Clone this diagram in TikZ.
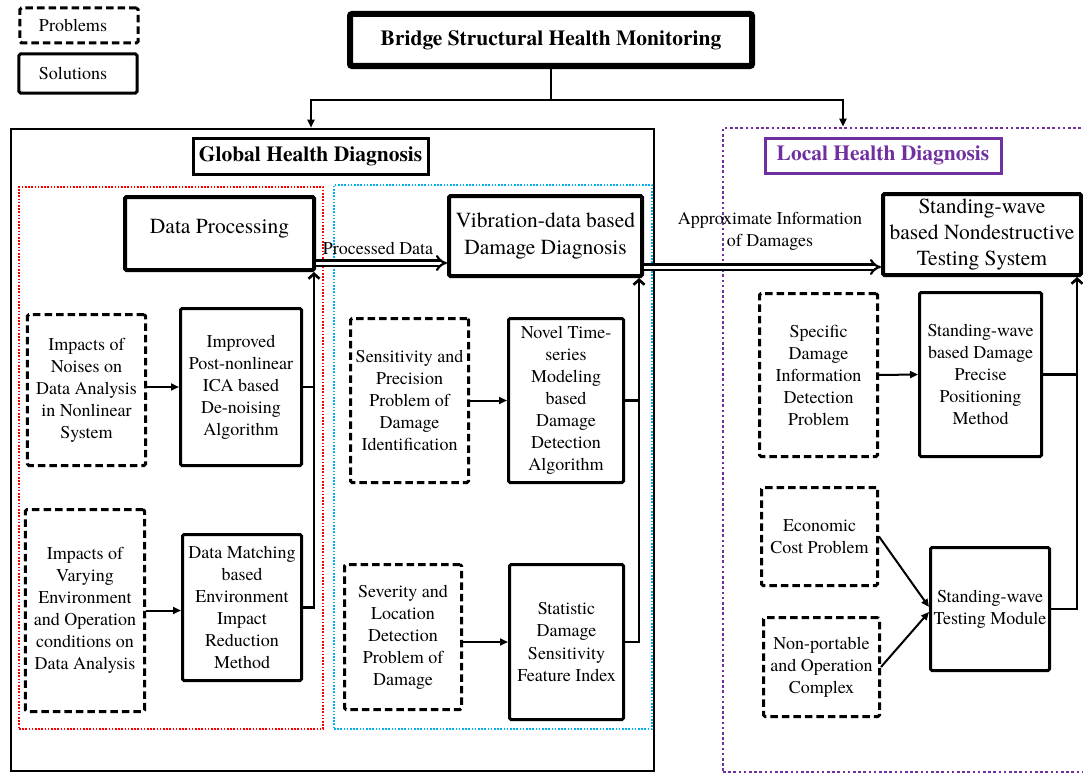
\documentclass[tikz,border=0pt]{standalone}
\usepackage{fontspec}
\setmainfont{texgyretermes}[Extension=.otf, UprightFont=*-regular, BoldFont=*-bold, ItalicFont=*-italic, BoldItalicFont=*-bolditalic]
\usetikzlibrary{arrows.meta}
\definecolor{zonered}{RGB}{255,0,0}
\definecolor{zoneblue}{RGB}{0,176,240}
\definecolor{zonepurple}{RGB}{112,48,160}
\newcommand\bodyfont{\fontsize{18bp}{22bp}\selectfont}
\newcommand\headfont{\fontsize{21.5bp}{27.5bp}\selectfont}
\newcommand\titlefont{\fontsize{21.5bp}{26bp}\selectfont\bfseries}
\newcommand\labelfont{\fontsize{18bp}{22bp}\selectfont}

\begin{document}
\begin{tikzpicture}[x=1bp,y=-1bp,
  box/.style={align=center, inner sep=0pt},
  prob/.style={box, draw, line width=3bp, dash pattern=on 7.5bp off 4bp, rounded corners=1.5bp, font=\bodyfont},
  sol/.style={box, draw, line width=3bp, rounded corners=1.5bp, font=\bodyfont},
  major/.style={box, draw, line width=4bp, rounded corners=1.5bp, font=\headfont},
  zone/.style={draw, line width=1.6bp, dash pattern=on 1.6bp off 1.6bp, inner sep=0pt},
  link/.style={line width=2bp, -{Triangle[length=8bp,width=7bp]}},
  feed/.style={line width=2.6bp, -{Straight Barb[length=5bp,width=11bp]}},
  trunk/.style={line width=2.6bp},
  pass/.style={double, double distance=3bp, line width=2.2bp, -{Implies[length=6bp]}},
]
\fill[white] (0,0) rectangle (1083,773);
\useasboundingbox (0,0) rectangle (1083,773);

% legend
\node[prob, minimum width=118bp, minimum height=35bp, font=\labelfont] (legP) at (79,25.5) {Problems\hspace*{12bp}};
\node[sol, minimum width=118bp, minimum height=39bp, font=\labelfont] (legS) at (78,73.5) {Solutions\hspace*{10bp}};

% title
\node[box, draw, line width=6bp, rounded corners=2bp, minimum width=402bp, minimum height=52bp, font=\titlefont] (title) at (551,40) {Bridge Structural Health Monitoring};

% global diagnosis frame
\node[draw, line width=2.5bp, minimum width=643bp, minimum height=642bp, inner sep=0pt] (global) at (332.5,450) {};
\node[box, draw, line width=3bp, minimum width=235bp, minimum height=36bp, font=\titlefont] (ghd) at (310.5,156) {Global Health Diagnosis};
\node[zone, draw=zonered, minimum width=304bp, minimum height=542bp] (redzone) at (171,458) {};
\node[zone, draw=zoneblue, minimum width=318bp, minimum height=544bp] (bluezone) at (493,457) {};

% local diagnosis frame
\node[zone, draw=zonepurple, line width=2.6bp, dash pattern=on 2.6bp off 2.6bp, minimum width=377bp, minimum height=644bp] (local) at (911.5,450) {};
\node[box, draw=zonepurple, text=zonepurple, line width=3bp, minimum width=236bp, minimum height=35bp, font=\titlefont] (lhd) at (883,155.5) {Local Health Diagnosis};

% main stages
\node[major, minimum width=189bp, minimum height=73bp, text depth=14bp] (DP) at (219.5,233.5) {Data Processing};
\node[major, minimum width=193bp, minimum height=80bp] (VB) at (545.5,236) {Vibration-data based\\Damage Diagnosis};
\node[major, minimum width=198bp, minimum height=81bp, font=\fontsize{21.5bp}{25.5bp}\selectfont] (NDT) at (982,234.5) {Standing-wave\\based Nondestructive\\Testing System};

% data processing column
\node[prob, minimum width=118bp, minimum height=151bp] (P1) at (86.5,390) {Impacts of\\Noises on\\Data Analysis\\in Nonlinear\\System};
\node[sol, minimum width=121bp, minimum height=157bp] (S1) at (241,387) {Improved\\Post-nonlinear\\ICA based\\De-noising\\Algorithm};
\node[prob, minimum width=119bp, minimum height=202bp] (P2) at (85,610.5) {Impacts of\\Varying\\Environment\\and Operation\\conditions on\\Data Analysis};
\node[sol, minimum width=119bp, minimum height=146bp] (S2) at (242,607.5) {Data Matching\\based\\Environment\\Impact\\Reduction\\Method};

% vibration diagnosis column
\node[prob, minimum width=118bp, minimum height=164bp] (P3) at (409.5,400.5) {Sensitivity and\\Precision\\Problem of\\Damage\\Identification};
\node[sol, minimum width=115bp, minimum height=164bp] (S3) at (566,400.5) {Novel Time-\\series\\Modeling\\based\\Damage\\Detection\\Algorithm};
\node[prob, minimum width=117bp, minimum height=145bp] (P4) at (403,637) {Severity and\\Location\\Detection\\Problem of\\Damage};
\node[sol, minimum width=114bp, minimum height=155bp] (S4) at (566.5,642) {Statistic\\Damage\\Sensitivity\\Feature Index};

% standing-wave column
\node[prob, minimum width=118bp, minimum height=163bp] (P5) at (818.5,375) {Specific\\Damage\\Information\\Detection\\Problem};
\node[sol, minimum width=122bp, minimum height=164bp] (S5) at (980.5,374.5) {Standing-wave\\based Damage\\Precise\\Positioning\\Method};
\node[prob, minimum width=116bp, minimum height=98bp] (P6) at (819.5,536.5) {Economic\\Cost Problem};
\node[prob, minimum width=116bp, minimum height=99bp] (P7) at (821.5,667) {Non-portable\\and Operation\\Complex};
\node[sol, minimum width=119bp, minimum height=123bp] (S6) at (990,609) {Standing-wave\\Testing Module};

% title branches
\draw[link] (title.south) -- ++(0,31) -| ([xshift=-21.5bp]global.north);
\draw[link] (title.south) -- ++(0,31) -| ([xshift=-68.5bp]local.north);

% data hand-over arrows
\path ([yshift=-29.5bp]DP.east) coordinate (pd);
\draw[pass] (pd) -- (pd -| VB.west);
\node[font=\labelfont, inner sep=0pt] (pdlabel) at (378,248) {Processed Data};
\path ([yshift=-31bp]VB.east) coordinate (ai);
\draw[pass] (ai) -- (ai -| NDT.west);
\node[font=\labelfont, align=center, inner sep=0pt] (ailabel) at (770,231) {Approximate Information\\of Damages};

% problems to solutions
\draw[link] (S1.west -| P1.east) -- (S1.west);
\draw[link] (P2.east) -- (P2.east -| S2.west);
\draw[link] (P3.east) -- (S3.west);
\draw[link] (S4.west -| P4.east) -- (S4.west);
\draw[link] (P5.east) -- (S5.west);
\draw[link] (P6.east) -- ([yshift=2bp]S6.west);
\draw[link] (P7.east) -- ([yshift=-3bp]S6.west);

% solutions feeding their stage
\path ([xshift=-2bp]DP.south east) coordinate (dpin);
\draw[feed] (S2.east) -| (dpin);
\draw[trunk] (S1.east) -- (S1.east -| dpin);
\path ([xshift=-5bp]VB.south east) coordinate (vbin);
\draw[feed] (S4.east) -| (vbin);
\draw[trunk] (S3.east) -- (S3.east -| vbin);
\path ([xshift=-6bp]NDT.south east) coordinate (ndin);
\draw[feed] (S6.east) -| (ndin);
\draw[trunk] (S5.east) -- (S5.east -| ndin);
\end{tikzpicture}
\end{document}
